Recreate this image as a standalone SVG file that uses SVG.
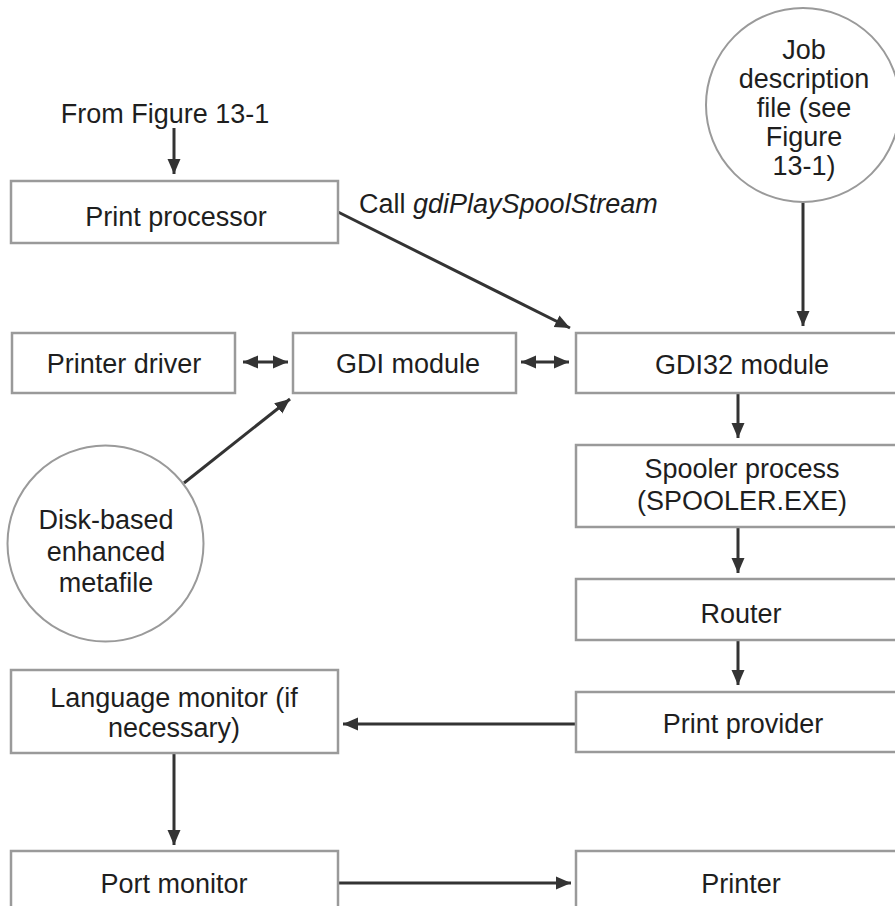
<svg xmlns="http://www.w3.org/2000/svg" width="895" height="906" viewBox="0 0 895 906">
<style>
.box{fill:#fff;stroke:#9a9a9a;stroke-width:2.5}
.circ{fill:#fff;stroke:#9a9a9a;stroke-width:2}
.t{font-family:"Liberation Sans",Arial,Helvetica,sans-serif;font-size:27px;fill:#1e1e1e;text-anchor:middle}
.c{stroke:#333;stroke-width:3;fill:none}
.a{marker-end:url(#ah)}
.d{marker-start:url(#ah);marker-end:url(#ah)}
</style>
<defs>
<marker id="ah" markerUnits="userSpaceOnUse" markerWidth="16" markerHeight="14" refX="15" refY="6.5" orient="auto-start-reverse" viewBox="0 0 16 13">
<path d="M0,0 L15,6.5 L0,13 Z" fill="#333"/>
</marker>
</defs>
<rect width="895" height="906" fill="#fff"/>

<g id="connectors">
<line class="c a" x1="174" y1="128" x2="174" y2="174"/>
<line class="c a" x1="338" y1="212" x2="570" y2="328"/>
<line class="c a" x1="803" y1="203" x2="803" y2="326"/>
<line class="c d" x1="243" y1="362" x2="288" y2="362"/>
<line class="c d" x1="521" y1="362" x2="569" y2="362"/>
<line class="c a" x1="184" y1="483" x2="290" y2="399"/>
<line class="c a" x1="738" y1="394" x2="738" y2="438"/>
<line class="c a" x1="738" y1="527" x2="738" y2="573"/>
<line class="c a" x1="738" y1="640" x2="738" y2="685"/>
<line class="c a" x1="575" y1="724" x2="343" y2="724"/>
<line class="c a" x1="174" y1="753" x2="174" y2="845"/>
<line class="c a" x1="338" y1="883" x2="571" y2="883"/>
</g>

<text class="t" x="165" y="123">From Figure 13-1</text>
<text class="t" x="359" y="213" style="text-anchor:start">Call <tspan font-style="italic">gdiPlaySpoolStream</tspan></text>

<g id="print-processor">
<rect class="box" x="11" y="181" width="327" height="62"/>
<text class="t" x="176" y="226">Print processor</text>
</g>

<g id="job-description">
<circle class="circ" cx="803" cy="105" r="97"/>
<text class="t" x="804" y="59">Job</text>
<text class="t" x="804" y="88">description</text>
<text class="t" x="804" y="117">file (see</text>
<text class="t" x="804" y="146">Figure</text>
<text class="t" x="804" y="175">13-1)</text>
</g>

<g id="printer-driver">
<rect class="box" x="12" y="333" width="223" height="60"/>
<text class="t" x="124" y="373">Printer driver</text>
</g>

<g id="gdi-module">
<rect class="box" x="293" y="333" width="223" height="60"/>
<text class="t" x="408" y="373">GDI module</text>
</g>

<g id="gdi32-module">
<rect class="box" x="576" y="333" width="330" height="60"/>
<text class="t" x="742" y="374">GDI32 module</text>
</g>

<g id="disk-metafile">
<circle class="circ" cx="105.5" cy="543.5" r="98"/>
<text class="t" x="106" y="529">Disk-based</text>
<text class="t" x="106" y="561">enhanced</text>
<text class="t" x="106" y="592">metafile</text>
</g>

<g id="spooler">
<rect class="box" x="576" y="445" width="330" height="82"/>
<text class="t" x="742" y="478">Spooler process</text>
<text class="t" x="742" y="510">(SPOOLER.EXE)</text>
</g>

<g id="router">
<rect class="box" x="576" y="579" width="330" height="61"/>
<text class="t" x="741" y="623">Router</text>
</g>

<g id="print-provider">
<rect class="box" x="576" y="692" width="330" height="60"/>
<text class="t" x="743" y="733">Print provider</text>
</g>

<g id="language-monitor">
<rect class="box" x="11" y="670" width="327" height="83"/>
<text class="t" x="174" y="707">Language monitor (if</text>
<text class="t" x="174" y="737">necessary)</text>
</g>

<g id="port-monitor">
<rect class="box" x="11" y="851" width="327" height="70"/>
<text class="t" x="174" y="893">Port monitor</text>
</g>

<g id="printer">
<rect class="box" x="576" y="851" width="330" height="70"/>
<text class="t" x="741" y="893">Printer</text>
</g>
</svg>
